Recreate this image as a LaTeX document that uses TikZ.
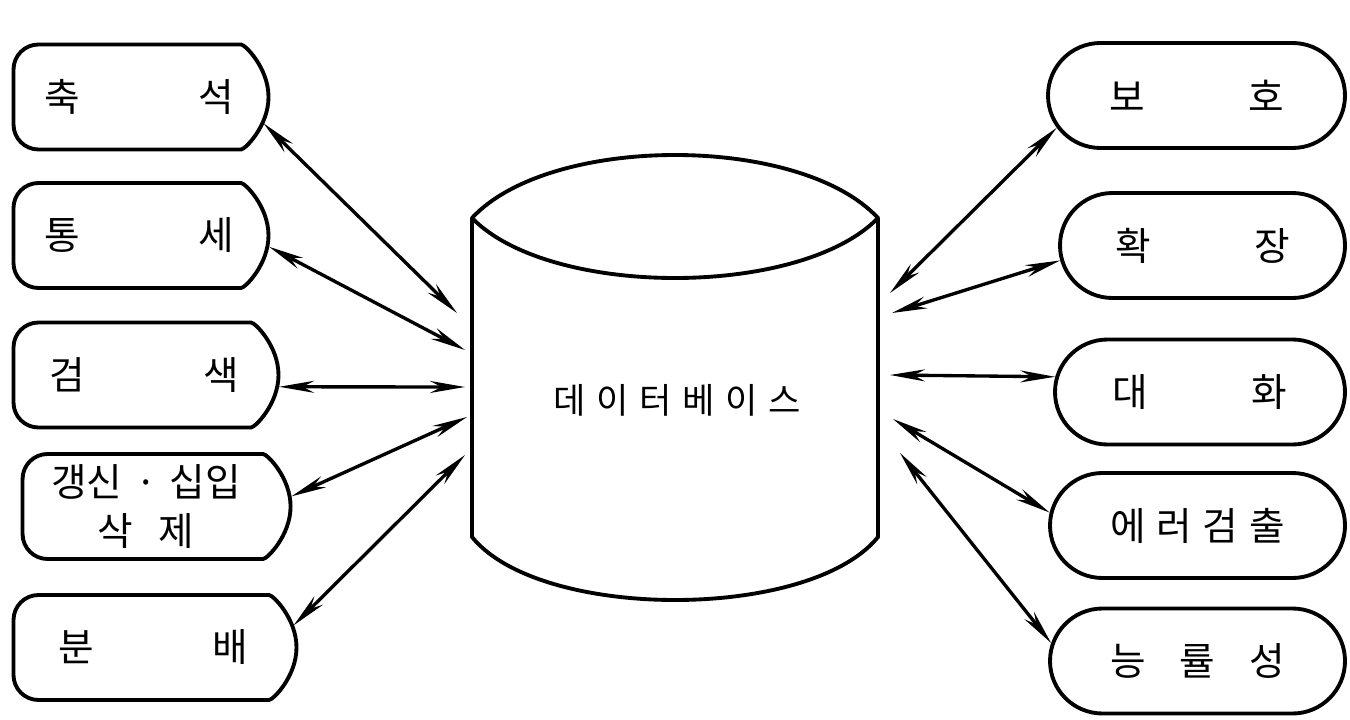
\documentclass[tikz,border=0pt]{standalone}
\usepackage{fontspec}
\newfontfamily\kr{Noto Sans CJK KR}
\usetikzlibrary{arrows.meta,positioning,shapes.misc}

\begin{document}
\begin{tikzpicture}[
  x=0.2mm, y=-0.2mm,
  func/.style={draw, line width=2.2pt, rounded rectangle, minimum height=21mm, inner sep=0pt, font=\kr\fontsize{22}{26}\selectfont},
  leftfunc/.style={func, rounded rectangle left arc=none, rounded corners=5mm, text width=38mm},
  rightfunc/.style={func, text width=35mm},
  arr/.style={{Stealth[length=7mm,width=2.4mm]}-{Stealth[length=7mm,width=2.4mm]}, line width=1.9pt},
]
\useasboundingbox (0,0) rectangle (1350,720);

% database cylinder
\draw[line width=2.2pt, line join=round]
  (472,218) -- (472,537) .. controls (540,621) and (810,621) .. (878,537)
  -- (878,218) .. controls (800,134) and (550,134) .. (472,218) -- cycle;
\draw[line width=2.2pt] (472,218) .. controls (550,298) and (800,298) .. (878,218);
\node[font=\kr\fontsize{20}{24}\selectfont\addfontfeatures{LetterSpace=30}] (db) at (677,400) {데이터베이스};

% left side
\node[leftfunc, minimum width=51mm] (acc)  at (139.5,97)  {축\hfill 석};
\node[leftfunc, minimum width=51mm] (ctrl) at (139.5,235.5) {통\hfill 세};
\node[leftfunc, minimum width=53mm] (srch) at (144.5,375) {검\hfill 색};
\node[leftfunc, minimum width=53.6mm, align=center] (upd) at (146,506.5) {갱신 · 십입\\[2pt]삭\hspace{5mm}제};
\node[leftfunc, minimum width=56.6mm] (dist) at (153.5,647.5) {분\hfill 배};

% right side
\node[rightfunc, minimum width=59.4mm] (prot) at (1196.5,95.5) {보\hfill 호};
\node[rightfunc, minimum width=57mm]   (ext)  at (1202.5,245.5) {확\hfill 장};
\node[rightfunc, minimum width=58mm]   (dial) at (1200,392) {대\hfill 화};
\node[rightfunc, minimum width=59mm]   (err)  at (1197.5,525.5) {에\hfill 러\hfill 검\hfill 출};
\node[rightfunc, minimum width=59mm]   (eff)  at (1197.5,661) {능\hfill 률\hfill 성};

% arrow ends on the cylinder
\coordinate (cl1) at (457,313);
\coordinate (cl2) at (465,350);
\coordinate (cl3) at (465,387);
\coordinate (cl4) at (467,417);
\coordinate (cl5) at (465,455);
\coordinate (cr1) at (890,293);
\coordinate (cr2) at (892,313);
\coordinate (cr3) at (890,375);
\coordinate (cr4) at (893,419);
\coordinate (cr5) at (900,453);

\foreach \a/\b in {acc.-12/cl1, ctrl.-5/cl2, srch.-5/cl3, upd.4/cl4, dist.9/cl5,
                   prot.193/cr1, ext.186/cr2, dial.174/cr3, err.175/cr4, eff.173/cr5}
  \draw[arr] (\a) -- (\b);
\end{tikzpicture}
\end{document}
